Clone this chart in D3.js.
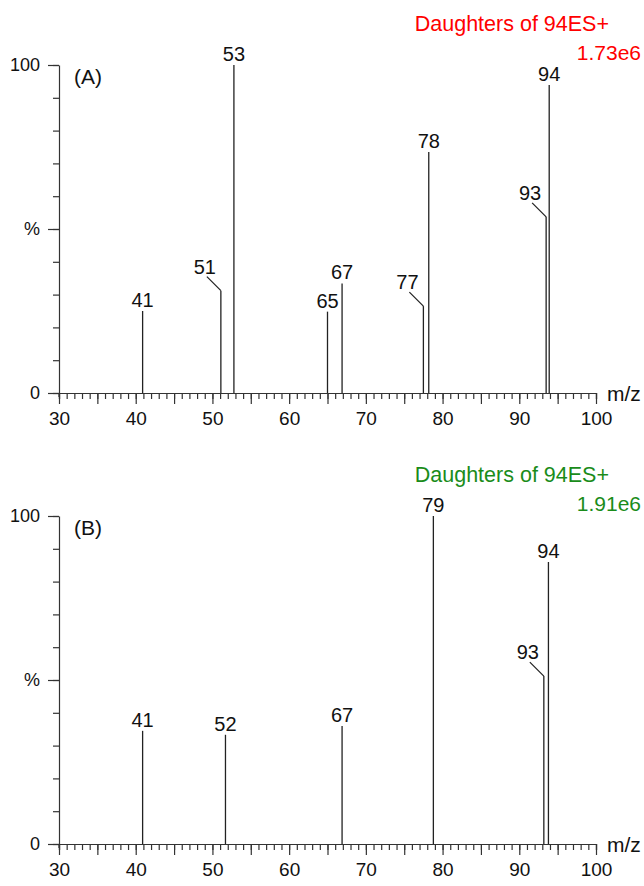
<!DOCTYPE html>
<html>
<head>
  <script src="https://d3js.org/d3.v7.min.js"></script>
  <style type="text/css">
    body { margin: 0; background-color: #ffffff; }
    svg text { font-family: 'Liberation Sans', Arial, sans-serif; fill: #111; }
    .axis path, .axis line { stroke: #333; stroke-width: 1.2; }
  </style>
</head>
<body>
<div id="chart"></div>
<script>
  // panel A peaks
  var mzA = [40.9, 51.1, 52.8, 65.0, 66.9, 77.5, 78.2, 93.5, 93.9];
  var intA = [25, 31.2, 100, 24.8, 33.4, 26.5, 73.5, 53.7, 93.9];
  var labA = ["41", "51", "53", "65", "67", "77", "78", "93", "94"];
  var leadA = [false, true, false, false, false, true, false, true, false];

  // panel B peaks
  var mzB = [40.9, 51.7, 66.9, 78.8, 93.2, 93.8];
  var intB = [34.5, 33.3, 36, 100, 51.2, 86];
  var labB = ["41", "52", "67", "79", "93", "94"];
  var leadB = [false, false, false, false, true, false];

  var xTicks = [30, 40, 50, 60, 70, 80, 90, 100];

  var svg = d3.select("#chart").append("svg").attr("width", 644).attr("height", 886);

  var x = d3.scaleLinear().domain([30, 100]).range([59, 596]);

  function drawPanel(top, mz, inten, labels, leader, name, color, scaleText) {
    var y = d3.scaleLinear().domain([0, 100]).range([top + 328, top]);
    var g = svg.append("g");
    var base = y(0);

    // x axis: minor every 1, mid every 5, labels every 10
    g.append("g").attr("class", "axis").attr("transform", "translate(0," + base + ")")
      .call(d3.axisBottom(x).tickValues(d3.range(30, 101, 1)).tickSize(6).tickFormat(""));
    g.append("g").attr("class", "axis").attr("transform", "translate(0," + base + ")")
      .call(d3.axisBottom(x).tickValues(d3.range(30, 101, 5)).tickSize(11).tickFormat(""))
      .select(".domain").remove();
    var xl = g.append("g").attr("class", "axis").attr("transform", "translate(0," + base + ")")
      .call(d3.axisBottom(x).tickValues(xTicks).tickSize(0).tickPadding(19));
    xl.select(".domain").remove();
    xl.selectAll("text").style("font-size", "19px").attr("fill", "#111");

    // y axis
    g.append("g").attr("class", "axis").attr("transform", "translate(59,0)")
      .call(d3.axisLeft(y).tickValues(d3.range(0, 101, 10)).tickSize(6).tickSizeOuter(0).tickFormat(""));
    var yl = g.append("g").attr("class", "axis").attr("transform", "translate(59,0)")
      .call(d3.axisLeft(y).tickValues([0, 50, 100]).tickSize(11).tickPadding(8)
        .tickFormat(function (d) { return d === 50 ? "%" : d; }));
    yl.select(".domain").remove();
    yl.selectAll("text").style("font-size", "18px").attr("fill", "#111");
    // axis line runs a little below the baseline
    g.append("line").attr("x1", 59).attr("x2", 59).attr("y1", base).attr("y2", base + 4)
      .attr("stroke", "#333").attr("stroke-width", 1.2);

    // m/z label
    g.append("text").attr("x", 607).attr("y", base + 8).style("font-size", "21px").text("m/z");

    // peaks
    var idx = d3.range(mz.length);
    g.selectAll(".peak").data(idx).enter().append("line")
      .attr("x1", function (i) { return x(mz[i]); })
      .attr("x2", function (i) { return x(mz[i]); })
      .attr("y1", base)
      .attr("y2", function (i) { return y(inten[i]); })
      .attr("stroke", "#222").attr("stroke-width", 1.3);

    g.selectAll(".lead").data(idx.filter(function (i) { return leader[i]; })).enter().append("line")
      .attr("x1", function (i) { return x(mz[i]); })
      .attr("y1", function (i) { return y(inten[i]); })
      .attr("x2", function (i) { return x(mz[i]) - 14; })
      .attr("y2", function (i) { return y(inten[i]) - 14; })
      .attr("stroke", "#222").attr("stroke-width", 1.2);

    g.selectAll(".plab").data(idx).enter().append("text")
      .attr("text-anchor", "middle")
      .attr("x", function (i) { return leader[i] ? x(mz[i]) - 16 : x(mz[i]); })
      .attr("y", function (i) { return leader[i] ? y(inten[i]) - 17 : y(inten[i]) - 4; })
      .style("font-size", "20px")
      .text(function (i) { return labels[i]; });

    // panel tag and title
    g.append("text").attr("x", 74).attr("y", top + 19).style("font-size", "21px").text(name);
    g.append("text").attr("x", 609).attr("y", top - 34).attr("text-anchor", "end")
      .style("font-size", "21.5px").style("fill", color).text("Daughters of 94ES+");
    g.append("text").attr("x", 641).attr("y", top - 5).attr("text-anchor", "end")
      .style("font-size", "21px").style("fill", color).text(scaleText);
  }

  drawPanel(65, mzA, intA, labA, leadA, "(A)", "#ff0000", "1.73e6");
  drawPanel(516, mzB, intB, labB, leadB, "(B)", "#1a8c1a", "1.91e6");
</script>
</body>
</html>
